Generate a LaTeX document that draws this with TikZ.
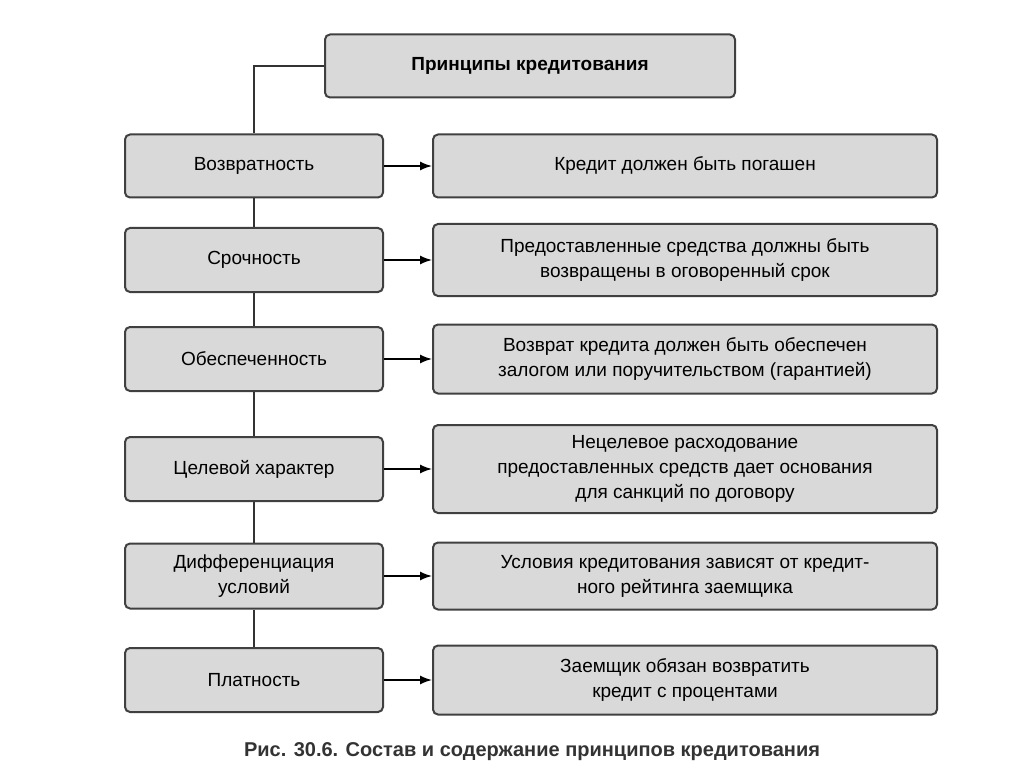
\documentclass[tikz,border=0pt]{standalone}
\usepackage{fontspec}
\setmainfont{Liberation Sans}
\usetikzlibrary{arrows.meta}
\tikzset{box/.style={rectangle, draw=black!75, line width=2pt, fill=black!15,
    rounded corners=5pt, align=center, font=\fontsize{19}{25}\selectfont, inner sep=0pt}}
\newcommand{\principle}[6]{%
  \node[box, minimum width=258pt, minimum height=#3pt] (p#1) at (254,#2) {#5};
  \node[box, minimum width=504pt, minimum height=#4pt] (d#1) at (685,#2) {#6};
  \draw[-{Latex[length=12pt,width=9pt]}, line width=1.5pt] (p#1) -- (d#1);}
\begin{document}
\begin{tikzpicture}[x=1pt,y=-1pt]
  \useasboundingbox (0,0) rectangle (1024,767);
  \node[box, minimum width=410pt, minimum height=63pt, font=\fontsize{19}{25}\selectfont\bfseries] (title) at (530,66) {Принципы кредитования};
  \principle{1}{166}{63}{63}{Возвратность}{Кредит должен быть погашен}
  \principle{2}{260}{64}{72}{Срочность}{Предоставленные средства должны быть\\возвращены в оговоренный срок}
  \principle{3}{359}{64}{69}{Обеспеченность}{Возврат кредита должен быть обеспечен\\залогом или поручительством (гарантией)}
  \principle{4}{469}{64}{88}{Целевой характер}{Нецелевое расходование\\предоставленных средств дает основания\\для санкций по договору}
  \principle{5}{576}{65}{67}{Дифференциация\\условий}{Условия кредитования зависят от кредит-\\ного рейтинга заемщика}
  \principle{6}{680}{64}{69}{Платность}{Заемщик обязан возвратить\\кредит с процентами}
  % trunk
  \draw[line width=2pt, black!80] (title.west) -| (p1.north);
  \foreach \a/\b in {1/2,2/3,3/4,4/5,5/6}
    \draw[line width=2pt, black!80] (p\a.south) -- (p\b.north);
  \node[font=\fontsize{20}{24}\selectfont\bfseries, text=black!80] (caption) at (532,752)
    {Рис. 30.6. Состав и содержание принципов кредитования};
\end{tikzpicture}
\end{document}
